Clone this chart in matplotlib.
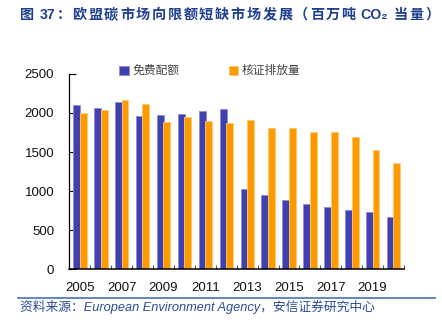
import matplotlib.pyplot as plt
import numpy as np

plt.rcParams['font.family'] = ['Noto Sans CJK SC', 'DejaVu Sans']

years = list(range(2005, 2021))
free_alloc = [2102, 2068, 2144, 1962, 1979, 1992, 2021, 2051,
              1023, 947, 883, 837, 794, 760, 730, 671]
verified = [2004, 2038, 2161, 2115, 1885, 1945, 1898, 1868,
            1915, 1809, 1809, 1750, 1762, 1686, 1529, 1359]
tick_years = [2005, 2007, 2009, 2011, 2013, 2015, 2017, 2019]

blue = '#4040B0'
orange = '#FF9900'
title_color = '#1F3F8F'

fig = plt.figure(figsize=(4.42, 3.24), dpi=100)
ax = fig.add_axes([0.157, 0.169, 0.757, 0.603])

x = np.arange(len(years))
w = 0.33
ax.bar(x - 0.15, free_alloc, w, color=blue, edgecolor='#8C8CD6', linewidth=0.6,
       label='免费配额', zorder=2)
ax.bar(x + 0.16, verified, w, color=orange, edgecolor='#FFC870', linewidth=0.6,
       label='核证排放量', zorder=2)

ax.set_xlim(-0.5, len(years) - 0.5)
ax.set_ylim(0, 2500)
ax.set_yticks(range(0, 2501, 500))
ax.set_xticks([years.index(y) for y in tick_years])
ax.set_xticklabels([str(y) for y in tick_years])
ax.set_xticks(np.arange(len(years) + 1) - 0.5, minor=True)
ax.tick_params(axis='x', which='major', length=0, pad=9)
ax.tick_params(axis='x', which='minor', direction='in', length=3, width=0.8,
               color='#555555')
ax.tick_params(axis='y', direction='in', length=5, width=0.8, pad=11)
for lab in ax.get_xticklabels() + ax.get_yticklabels():
    lab.set_fontfamily('Liberation Sans')
    lab.set_fontsize(9.5)
    lab.set_color('#111111')

for s in ['top', 'right']:
    ax.spines[s].set_visible(False)
ax.spines['left'].set_linewidth(0.9)
ax.spines['bottom'].set_linewidth(1.1)

# legend entries laid out side by side above the bars
fig.legend(loc='center', bbox_to_anchor=(0.475, 0.782), ncol=2, frameon=False,
           fontsize=8.5, handlelength=0.8, handleheight=0.8, handletextpad=0.3,
           columnspacing=4.2, labelcolor='#444444')

# title pieces placed one by one with a little extra tracking
title_parts = ['图', ' ', '37', '：', '欧', '盟', '碳', '市', '场', '向', '限', '额',
               '短', '缺', '市', '场', '发', '展', '（', '百', '万', '吨', ' ',
               'CO₂', ' ', '当', '量', '）']
mixed = ['Liberation Sans', 'Noto Sans CJK SC', 'DejaVu Sans']
fig.canvas.draw()
renderer = fig.canvas.get_renderer()
xpos = 0.045 * 442
for part in title_parts:
    if part == ' ':
        xpos += 3.5
        continue
    t = fig.text(xpos / 442, 0.955, part, fontsize=10.2, fontweight='bold',
                 color=title_color, va='center', family=mixed)
    xpos += t.get_window_extent(renderer).width + 1.7

fig.add_artist(plt.Line2D([0.04, 0.985], [0.08, 0.08], color='#4A6FB0',
                          linewidth=1.2, transform=fig.transFigure))
fig.text(0.045, 0.052, '资料来源：European Environment Agency，安信证券研究中心',
         fontsize=9.2, style='italic', color='#2A4A9A', va='center', family=mixed)

fig.savefig('out.png', dpi=100)
